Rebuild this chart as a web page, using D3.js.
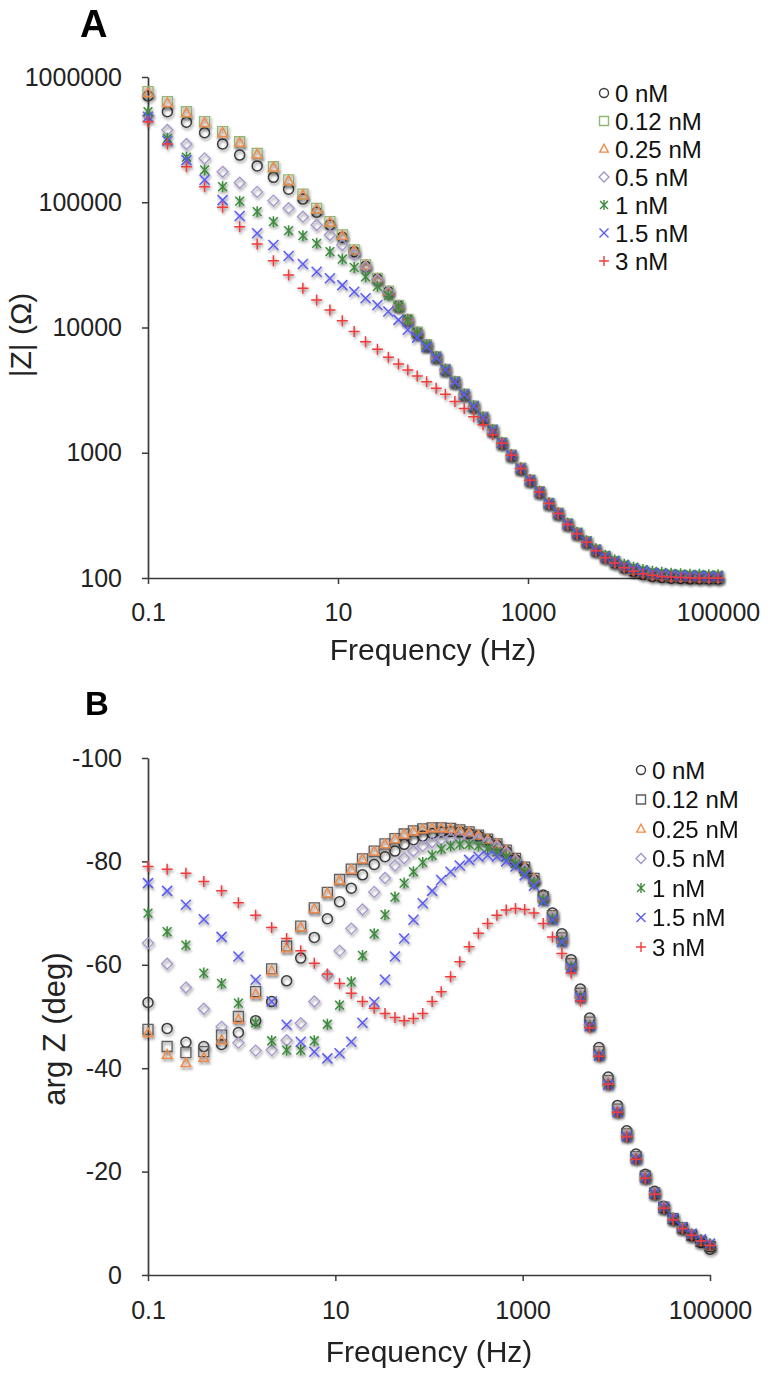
<!DOCTYPE html>
<html><head><meta charset="utf-8">
<script src="https://cdn.jsdelivr.net/npm/d3@7"></script>
<style>
body{margin:0;background:#fff}
svg{display:block}
text{font-family:"Liberation Sans",Arial,Helvetica,sans-serif}
</style>
</head><body>
<svg id="c" width="770" height="1378"></svg>
<script>
// ---------- DATA ----------
const freqHz = [0.1, 0.16, 0.254, 0.394, 0.61, 0.923, 1.41, 2.09, 3.02, 4.27, 5.96, 8.22, 11.1, 14.8, 19.5, 26.0, 33.9, 43.3, 54.3, 68.2, 85.7, 108, 135, 170, 213, 268, 337, 423, 531, 667, 838, 1050, 1320, 1660, 2080, 2620, 3290, 4130, 5190, 6520, 8190, 10300, 12900, 16200, 20400, 25600, 32100, 40400, 50700, 63700, 80000, 100000];

const seriesNames = ["0 nM", "0.12 nM", "0.25 nM", "0.5 nM", "1 nM", "1.5 nM", "3 nM"];

// |Z| (Ohm)
const mag_0nM   = [705000, 528000, 435000, 359000, 292000, 238000, 195000, 158000, 127000, 106000, 83200, 65800, 52500, 40300, 30900, 24400, 19300, 14900, 11500, 9100, 7230, 5820, 4610, 3670, 2920, 2350, 1910, 1515, 1195, 955, 750, 603, 487, 393, 327, 268, 226, 193, 165, 146, 132, 121, 113, 107, 103, 101, 99.5, 99, 98.5, 98.5, 98.5, 98.5];
const mag_012nM = [764000, 635000, 528000, 440000, 366000, 304000, 246000, 192000, 151000, 116000, 89500, 70000, 54800, 41600, 31600, 24700, 19500, 15000, 11600, 9160, 7280, 5850, 4630, 3690, 2930, 2360, 1920, 1520, 1200, 959, 752, 605, 489, 395, 329, 270, 228, 195, 167, 148, 135, 124, 117, 112, 108, 106, 105, 104, 103, 103, 102, 102];
const mag_025nM = [745000, 620000, 515000, 430000, 358000, 298000, 241000, 189000, 148000, 114000, 88000, 69000, 54000, 41100, 31300, 24500, 19300, 14900, 11500, 9100, 7230, 5810, 4610, 3670, 2920, 2350, 1910, 1515, 1195, 956, 750, 603, 487, 394, 328, 269, 227, 194, 166, 147, 134, 123, 115, 110, 106, 104, 102, 101, 100.5, 100, 100, 100];
const mag_05nM  = [490000, 378000, 292000, 224000, 175000, 143000, 121000, 103000, 89500, 76700, 65800, 54800, 45600, 38200, 30600, 24200, 19200, 14800, 11500, 9120, 7240, 5820, 4610, 3670, 2920, 2350, 1910, 1515, 1195, 956, 750, 603, 487, 394, 328, 269, 227, 194, 166, 147, 134, 123, 116, 111, 107, 105, 104, 103, 102, 102, 101, 101];
const mag_1nM   = [528000, 324000, 229000, 181000, 133000, 102000, 84100, 70000, 59300, 54100, 47000, 40300, 35200, 30200, 25400, 21300, 18000, 14700, 11500, 9080, 7220, 5810, 4610, 3670, 2920, 2350, 1910, 1518, 1198, 958, 752, 605, 490, 397, 331, 273, 231, 198, 171, 152, 139, 129, 122, 117, 113, 111, 109, 108, 107, 107, 106, 106];
const mag_15nM  = [482000, 310000, 217000, 151000, 104000, 77600, 56500, 45600, 37200, 32100, 27900, 24700, 21800, 19300, 17100, 15100, 13400, 11500, 9600, 8300, 7000, 5750, 4600, 3680, 2925, 2355, 1915, 1518, 1198, 958, 751, 604, 488, 395, 329, 270, 228, 195, 167, 148, 136, 126, 119, 114, 110, 108, 106, 105, 104, 104, 103, 103];
const mag_3nM   = [440000, 292000, 192000, 133000, 91200, 63800, 46500, 34100, 26200, 20600, 16600, 13800, 11300, 9300, 7710, 6700, 5780, 5110, 4580, 4100, 3690, 3270, 2930, 2560, 2260, 1940, 1670, 1390, 1190, 955, 748, 602, 486, 393, 327, 268, 226, 193, 165, 145, 132, 121, 113, 108, 105, 103, 102, 101, 100.5, 100, 100, 100];

// arg Z (deg)
const phase_0nM   = [-52.7, -47.7, -45.0, -44.2, -44.6, -46.9, -49.2, -52.9, -56.9, -61.3, -65.3, -68.9, -72.2, -74.8, -77.4, -79.4, -80.9, -82.0, -83.3, -84.2, -84.9, -85.4, -85.7, -85.8, -85.7, -85.4, -84.9, -84.1, -83.1, -81.9, -80.3, -78.6, -76.4, -73.5, -70.0, -66.0, -61.0, -55.3, -49.7, -44.0, -38.3, -32.8, -27.9, -23.4, -19.5, -16.2, -13.3, -11.0, -9.1, -7.6, -6.3, -5.0];
const phase_012nM = [-47.5, -44.2, -43.0, -43.2, -46.4, -50.0, -54.8, -59.2, -63.6, -67.5, -71.0, -74.0, -76.5, -78.5, -80.5, -82.0, -83.4, -84.4, -85.3, -85.9, -86.3, -86.5, -86.5, -86.4, -86.1, -85.7, -85.1, -84.3, -83.4, -82.2, -80.6, -78.9, -76.7, -73.2, -69.5, -65.2, -60.2, -54.5, -48.9, -43.2, -37.6, -32.1, -27.3, -22.9, -19.1, -15.9, -13.1, -10.9, -9.1, -7.7, -6.5, -5.5];
const phase_025nM = [-46.8, -42.6, -41.0, -42.0, -45.4, -49.4, -54.3, -58.8, -63.2, -67.2, -70.8, -73.8, -76.3, -78.4, -80.4, -81.9, -83.3, -84.3, -85.2, -85.8, -86.2, -86.4, -86.4, -86.3, -86.0, -85.6, -85.0, -84.2, -83.3, -82.1, -80.5, -78.8, -76.6, -73.0, -69.3, -65.0, -60.0, -54.2, -48.6, -42.9, -37.3, -31.8, -27.1, -22.7, -18.9, -15.8, -13.0, -10.9, -9.1, -7.8, -6.6, -5.7];
const phase_05nM  = [-64.2, -60.2, -55.6, -51.5, -48.0, -44.9, -43.4, -43.5, -45.4, -48.7, -52.9, -58.0, -62.7, -67.0, -70.7, -74.1, -76.8, -79.2, -80.6, -82.0, -83.0, -83.7, -84.2, -84.5, -84.6, -84.5, -84.2, -83.6, -82.8, -81.7, -80.2, -78.4, -76.2, -72.8, -69.1, -64.8, -59.8, -54.0, -48.4, -42.7, -37.1, -31.7, -27.0, -22.6, -18.9, -15.8, -13.1, -10.9, -9.2, -7.9, -6.8, -5.9];
const phase_1nM   = [-70.0, -66.4, -63.8, -58.4, -56.4, -52.6, -48.8, -45.3, -43.5, -43.5, -45.3, -48.5, -52.2, -56.7, -61.8, -66.0, -69.7, -73.1, -75.8, -78.0, -79.8, -81.2, -82.4, -83.0, -83.3, -83.3, -83.0, -82.5, -81.8, -80.9, -79.6, -78.0, -75.9, -72.6, -68.9, -64.6, -59.6, -53.8, -48.2, -42.5, -36.9, -31.5, -26.8, -22.5, -18.8, -15.7, -13.0, -10.9, -9.2, -7.9, -6.8, -6.0];
const phase_15nM  = [-75.8, -74.3, -71.6, -68.8, -65.4, -61.6, -57.1, -52.9, -48.4, -45.1, -43.2, -41.9, -42.9, -45.1, -48.8, -52.8, -57.1, -61.6, -65.1, -68.7, -71.9, -74.3, -76.4, -78.0, -79.2, -80.3, -80.9, -81.2, -80.9, -80.0, -79.0, -77.3, -75.3, -72.3, -68.7, -64.4, -59.4, -53.7, -48.1, -42.4, -36.8, -31.5, -26.8, -22.5, -18.8, -15.8, -13.1, -11.0, -9.3, -8.0, -6.9, -6.1];
const phase_3nM   = [-79.0, -78.5, -77.7, -76.1, -74.3, -72.0, -69.6, -67.2, -65.1, -62.7, -60.3, -58.2, -56.4, -54.5, -52.9, -51.6, -50.6, -49.8, -49.2, -49.6, -50.6, -52.9, -54.8, -57.7, -60.6, -63.5, -66.1, -68.0, -69.6, -70.6, -70.9, -70.7, -70.0, -68.0, -65.4, -62.2, -58.4, -53.0, -47.8, -42.3, -36.9, -31.5, -26.8, -22.4, -18.7, -15.6, -12.9, -10.7, -9.0, -7.7, -6.6, -5.7];

const magTicks = [100, 1000, 10000, 100000, 1000000];
const phaseTicks = [-100, -80, -60, -40, -20, 0];
const freqTicks = [0.1, 10, 1000, 100000];

// ---------- STYLE TABLE ----------
const magData = [mag_0nM, mag_012nM, mag_025nM, mag_05nM, mag_1nM, mag_15nM, mag_3nM];
const phaseData = [phase_0nM, phase_012nM, phase_025nM, phase_05nM, phase_1nM, phase_15nM, phase_3nM];
const shapes = ["circle", "square", "triangle", "diamond", "star", "x", "plus"];
const colorsA = ["#3c3c3c", "#93b874", "#f08a4b", "#a496cb", "#3d8c3d", "#5a5af5", "#f23a3a"];
const colorsB = ["#3c3c3c", "#5e5e5e", "#f08a4b", "#a496cb", "#3d8c3d", "#5a5af5", "#f23a3a"];

function markerPath(shape, r) {
  switch (shape) {
    case "circle": return `M${r},0A${r},${r} 0 1,1 ${-r},0A${r},${r} 0 1,1 ${r},0Z`;
    case "square": return `M${-r},${-r}H${r}V${r}H${-r}Z`;
    case "triangle": return `M0,${-r*1.05}L${r*0.95},${r*0.7}L${-r*0.95},${r*0.7}Z`;
    case "diamond": return `M0,${-r}L${r},0L0,${r}L${-r},0Z`;
    case "star": { const d = r*0.8; return `M${-d},${-d}L${d},${d}M${d},${-d}L${-d},${d}M0,${-r}L0,${r}`; }
    case "x": return `M${-r},${-r}L${r},${r}M${r},${-r}L${-r},${r}`;
    case "plus": return `M${-r},0H${r}M0,${-r}V${r}`;
  }
}
const markerR = {circle:5, square:5, triangle:5, diamond:5.5, star:5.5, x:5, plus:5.5};

const svg = d3.select("#c");
const defs = svg.append("defs");
const flt = defs.append("filter").attr("id", "sh")
  .attr("x", "-10%").attr("y", "-10%").attr("width", "120%").attr("height", "120%");
flt.append("feGaussianBlur").attr("in", "SourceAlpha").attr("stdDeviation", 1.5).attr("result", "b");
flt.append("feOffset").attr("in", "b").attr("dx", 1).attr("dy", 1.6).attr("result", "o");
flt.append("feComponentTransfer").attr("in", "o").attr("result", "s")
  .append("feFuncA").attr("type", "linear").attr("slope", 0.5);
const mg = flt.append("feMerge");
mg.append("feMergeNode").attr("in", "s");
mg.append("feMergeNode").attr("in", "SourceGraphic");

const fmtFreq = d => d < 1 ? String(d) : d3.format("d")(d);

function styleAxis(g) {
  g.select(".domain").attr("stroke", "#3a3a3a").attr("stroke-width", 1.7);
  g.selectAll(".tick line").attr("stroke", "#3a3a3a").attr("stroke-width", 1.5);
  g.selectAll(".tick text").attr("fill", "#222").style("font-size", "25px")
    .style("font-family", '"Liberation Sans", Arial, sans-serif');
}

function drawPanel(cfg) {
  const {x, y, data, colors, legendX, legendY0, legendDy, xLabelPad} = cfg;
  const ax = svg.append("g").attr("transform", `translate(0,${y.range()[0]})`)
    .call(d3.axisBottom(x).tickValues(freqTicks).tickFormat(fmtFreq).tickSize(6).tickSizeOuter(0).tickPadding(xLabelPad));
  styleAxis(ax);
  const ay = svg.append("g").attr("transform", `translate(${x.range()[0]},0)`)
    .call(cfg.yAxis);
  styleAxis(ay);
  data.forEach((vals, si) => {
    const g = svg.append("g").attr("filter", "url(#sh)");
    const shape = shapes[si];
    g.selectAll("path").data(vals.map((v, i) => [freqHz[i], v])).join("path")
      .attr("transform", d => `translate(${x(d[0])},${y(d[1])})`)
      .attr("d", markerPath(shape, markerR[shape]))
      .attr("fill", "none")
      .attr("stroke", colors[si])
      .attr("stroke-width", shape === "square" || shape === "diamond" ? 1.3 : 1.5);
  });
  const lg = svg.append("g");
  seriesNames.forEach((n, si) => {
    const yy = legendY0 + si * legendDy;
    lg.append("path").attr("transform", `translate(${legendX},${yy})`)
      .attr("d", markerPath(shapes[si], markerR[shapes[si]] * 0.9))
      .attr("fill", "none").attr("stroke", colors[si]).attr("stroke-width", 1.4);
    lg.append("text").attr("x", legendX + 11).attr("y", yy + 8.5)
      .attr("fill", "#111").style("font-size", "24px").text(n);
  });
}

// Panel A
const xA = d3.scaleLog().domain([0.1, 100000]).range([148, 718]);
const yA = d3.scaleLog().domain([100, 1000000]).range([578, 77]);
drawPanel({
  x: xA, y: yA, data: magData, colors: colorsA,
  yAxis: d3.axisLeft(yA).tickValues(magTicks).tickFormat(d3.format("d")).tickSize(6).tickSizeOuter(0).tickPadding(20),
  legendX: 604, legendY0: 93, legendDy: 28, xLabelPad: 19
});

// Panel B
const xB = d3.scaleLog().domain([0.1, 100000]).range([148, 710]);
const yB = d3.scaleLinear().domain([0, -100]).range([1275, 758]);
drawPanel({
  x: xB, y: yB, data: phaseData, colors: colorsB,
  yAxis: d3.axisLeft(yB).tickValues(phaseTicks).tickFormat(d => String(d)).tickSize(6).tickSizeOuter(0).tickPadding(20),
  legendX: 641, legendY0: 770, legendDy: 29.5, xLabelPad: 20
});

// Titles
svg.append("text").attr("x", 80).attr("y", 37).style("font-size", "38px").style("font-weight", "bold").attr("fill", "#000").text("A");
svg.append("text").attr("x", 85).attr("y", 715).style("font-size", "33px").style("font-weight", "bold").attr("fill", "#000").text("B");

svg.append("text").attr("x", 433).attr("y", 660).attr("text-anchor", "middle").style("font-size", "30px").attr("fill", "#222").text("Frequency (Hz)");
svg.append("text").attr("x", 429).attr("y", 1362).attr("text-anchor", "middle").style("font-size", "30px").attr("fill", "#222").text("Frequency (Hz)");

svg.append("text").attr("transform", "translate(31,335) rotate(-90)").attr("text-anchor", "middle").style("font-size", "30px").attr("fill", "#222").text("|Z| (Ω)");
svg.append("text").attr("transform", "translate(65,1029) rotate(-90)").attr("text-anchor", "middle").style("font-size", "31px").attr("fill", "#222").text("arg Z (deg)");
</script>
</body></html>
